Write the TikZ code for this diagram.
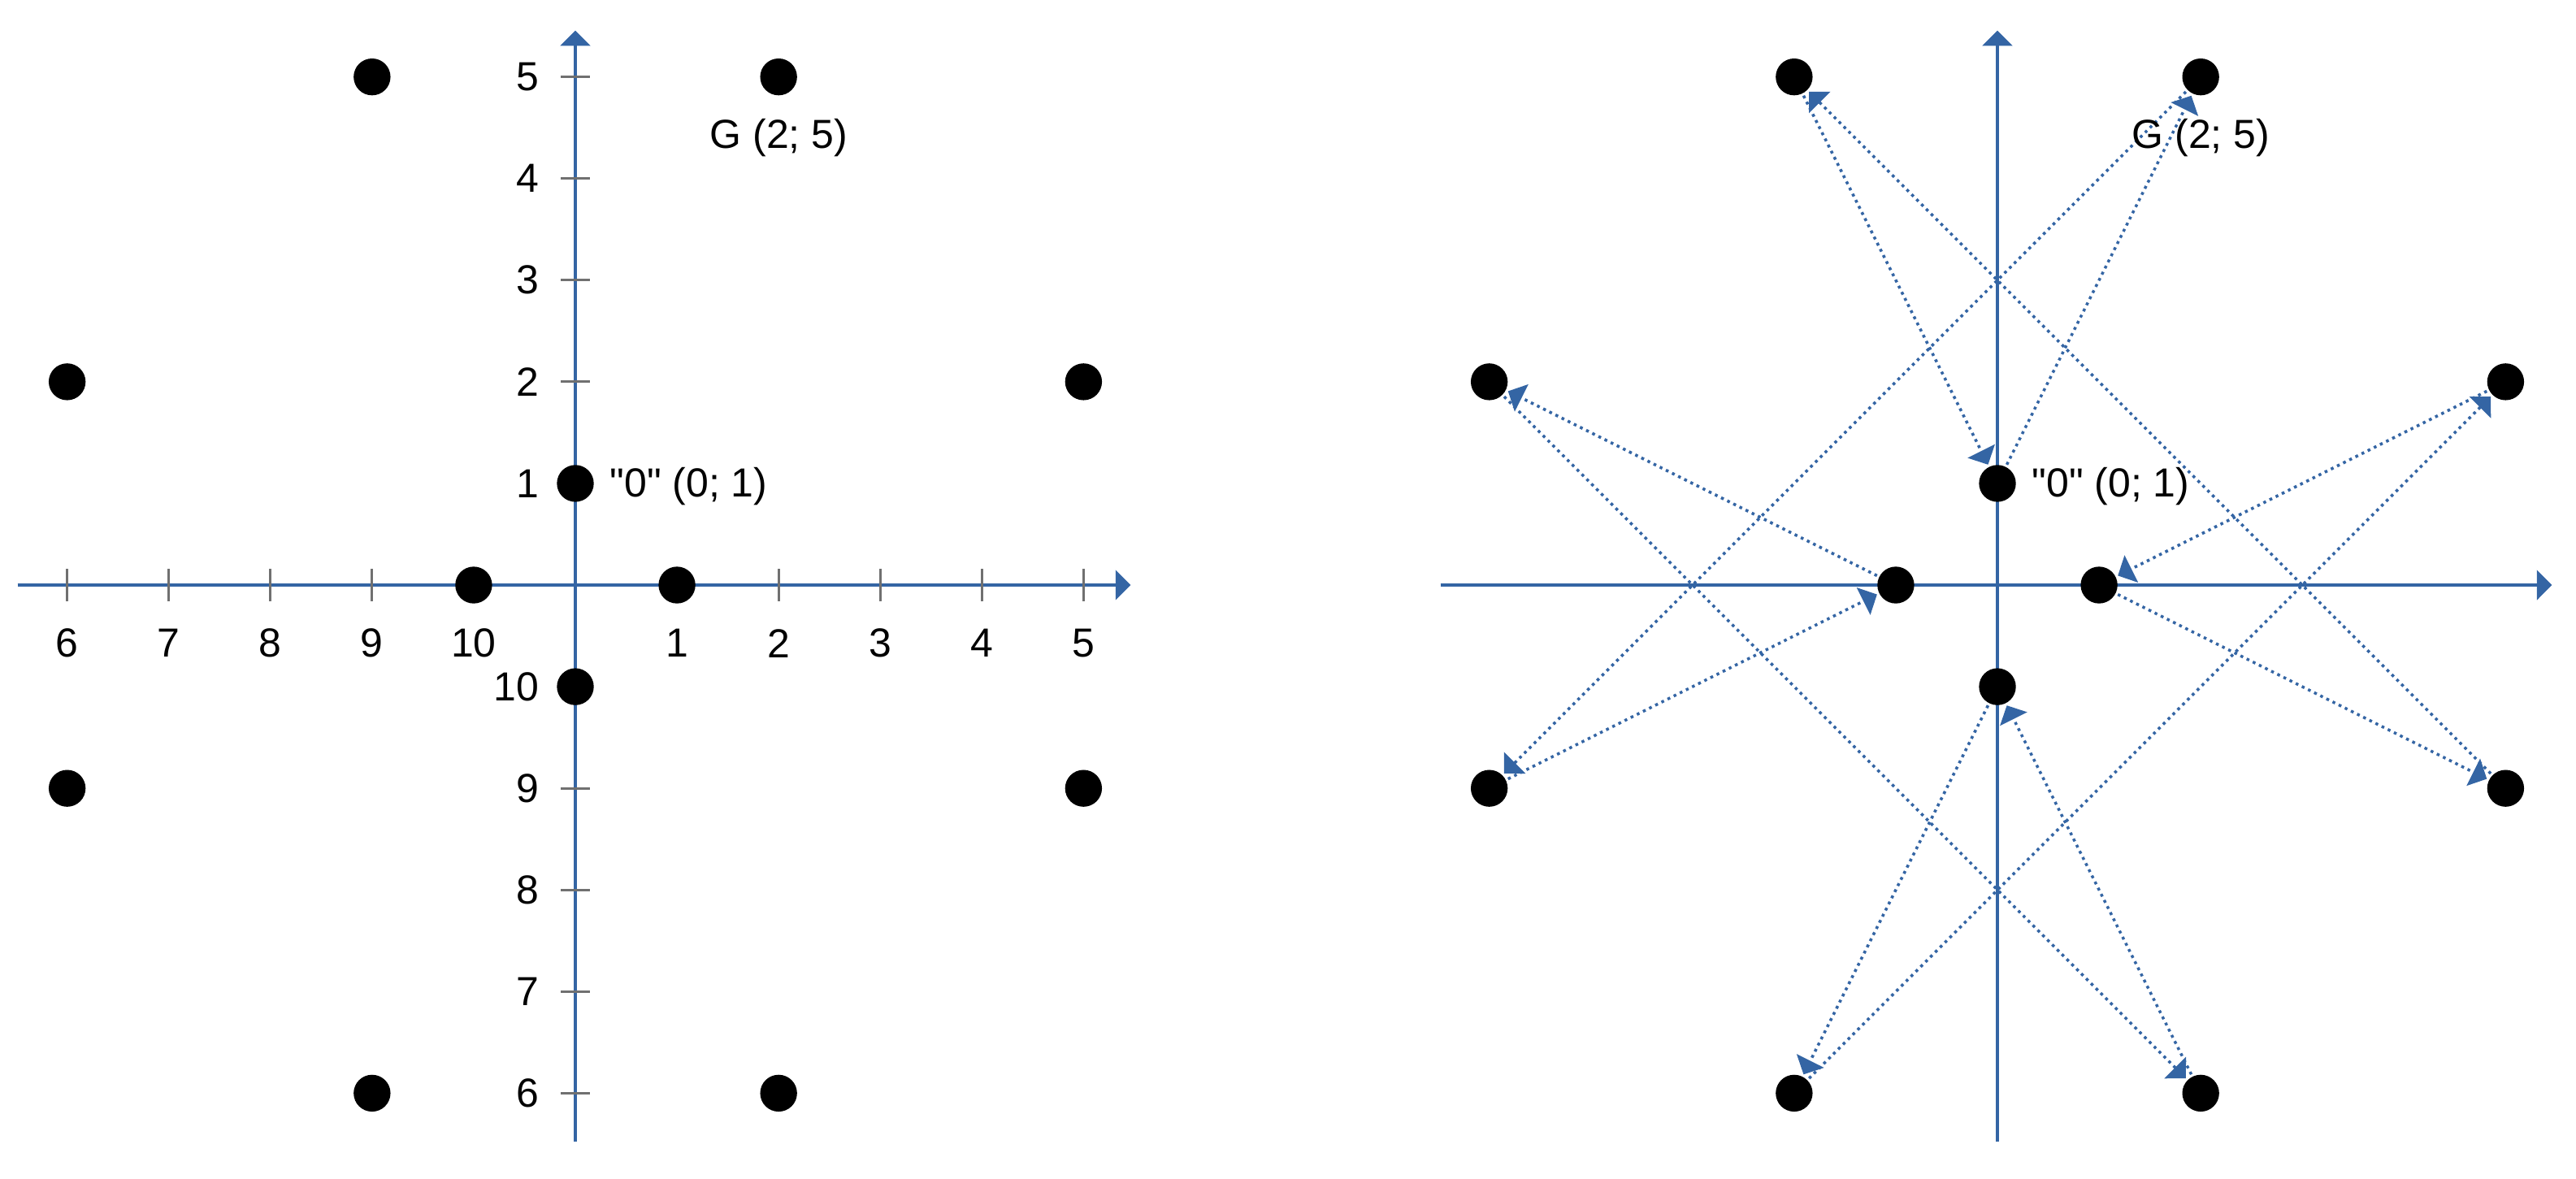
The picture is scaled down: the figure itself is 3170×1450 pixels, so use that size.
\documentclass[tikz,border=0pt]{standalone}
\usepackage{fontspec}
\setmainfont{Liberation Sans}[Ligatures=TeXOff]
\usetikzlibrary{arrows.meta}
\definecolor{axblue}{RGB}{52,101,164}
\definecolor{tickgray}{RGB}{112,112,112}
\begin{document}
\begin{tikzpicture}[x=0.01cm,y=-0.01cm,
  font=\fontsize{14.2pt}{17pt}\selectfont,
  axis/.style={draw=axblue,line width=1pt,-{Triangle[length=5.3pt,width=10.4pt]}},
  tickmark/.style={draw=tickgray,line width=0.85pt},
  dotpt/.style={circle,fill=black,inner sep=0pt,minimum size=12.9pt,outer sep=0.9pt},
  conn/.style={draw=axblue,line width=1pt,dash pattern=on 1pt off 1.4pt,-{Triangle[length=5.3pt,width=10.5pt]}},
  lbl/.style={inner sep=0pt,text=black}]
\useasboundingbox (0,0) rectangle (3170,1450);
% ---------------- left panel ----------------
\begin{scope}[shift={(708,720)},x=1.25cm,y=1.25cm]
  \draw[axis] (-5.488,0) -- (5.464,0);
  \draw[axis] (0,-5.48) -- (0,5.456);
  \foreach \i in {1,...,5} {
    \pgfmathtruncatemacro{\j}{11-\i}
    \draw[tickmark] (\i,-0.16) -- (\i,0.16);
    \draw[tickmark] (-\i,-0.16) -- (-\i,0.16);
    \draw[tickmark] (-0.144,\i) -- (0.144,\i);
    \draw[tickmark] (-0.144,-\i) -- (0.144,-\i);
    \node[lbl] (xp\i) at (\i,-0.572) {\i};
    \node[lbl] (xn\i) at (-\i,-0.572) {\j};
    \node[lbl,anchor=east] (yp\i) at (-0.352,\i) {\i};
    \node[lbl,anchor=east] (yn\i) at (-0.352,-\i) {\j};
  }
  \foreach \n/\x/\y in {a/-2/5,b/2/5,c/-5/2,d/5/2,e/0/1,f/-1/0,h/1/0,i/0/-1,j/-5/-2,k/5/-2,l/-2/-5,m/2/-5}
    \node[dotpt] (\n1) at (\x,\y) {};
  \node[lbl,anchor=base west] (g1lab) at (1.32,4.296) {G (2; 5)};
  \node[lbl,anchor=base west] (e1lab) at (0.336,0.864) {"0" (0; 1)};
\end{scope}
% ---------------- right panel ----------------
\begin{scope}[shift={(2458,720)},x=1.25cm,y=1.25cm]
  \draw[axis] (-5.48,0) -- (5.456,0);
  \draw[axis] (0,-5.48) -- (0,5.456);
  \foreach \n/\x/\y in {a/-2/5,b/2/5,c/-5/2,d/5/2,e/0/1,f/-1/0,h/1/0,i/0/-1,j/-5/-2,k/5/-2,l/-2/-5,m/2/-5}
    \node[dotpt] (\n2) at (\x,\y) {};
  \foreach \s/\t in {e/b,b/j,j/f,f/c,c/m,m/i,i/l,l/d,d/h,h/k,k/a,a/e}
    \draw[conn] (\s2) -- (\t2);
  \node[lbl,anchor=base west] (g2lab) at (1.32,4.296) {G (2; 5)};
  \node[lbl,anchor=base west] (e2lab) at (0.336,0.864) {"0" (0; 1)};
\end{scope}
\end{tikzpicture}
\end{document}
